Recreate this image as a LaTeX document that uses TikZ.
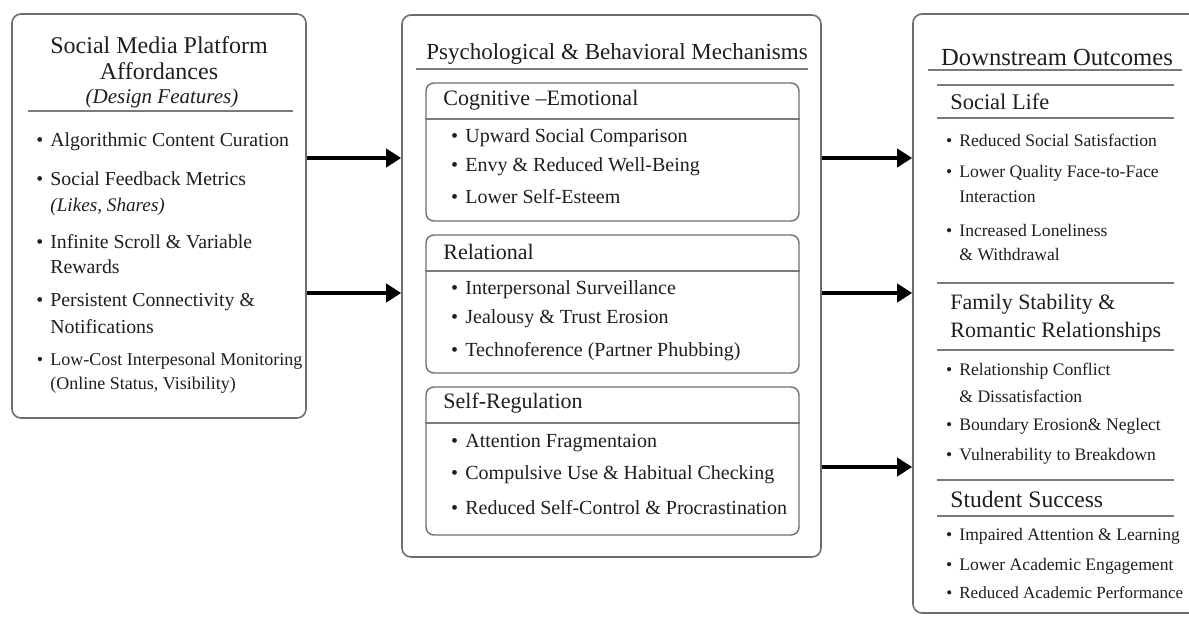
\documentclass[tikz,border=0pt]{standalone}
\usepackage{fontspec}
\setmainfont{Liberation Serif}
\usetikzlibrary{arrows.meta,fit}
\definecolor{boxgray}{HTML}{6E6E6E}
\definecolor{rulegray}{HTML}{7A7A7A}
\definecolor{ink}{HTML}{1E1E1E}
\newcommand{\fs}[1]{\fontsize{#1}{#1}\selectfont}
\newcommand{\bul}{\llap{•\hspace{3.6pt}}}
\begin{document}
\begin{tikzpicture}[x=0.5pt,y=-0.5pt,
  bigbox/.style={draw=boxgray,line width=0.8pt,rounded corners=4.5pt,inner sep=0pt},
  subbox/.style={draw=boxgray,line width=0.7pt,rounded corners=4pt,inner sep=0pt},
  rulel/.style={draw=rulegray,line width=0.7pt},
  txt/.style={anchor=west,inner sep=0pt,text=ink},
  ctxt/.style={anchor=center,inner sep=0pt,text=ink},
  lb/.style={txt,font=\fs{9.9}},
  mb/.style={txt,font=\fs{10}},
  rb/.style={txt,font=\fs{8.8}},
  mh/.style={txt,font=\fs{11}},
  rh/.style={txt,font=\fs{11.2}},
  arr/.style={draw=black,line width=2.2pt,-{Triangle[length=7.5pt,width=9pt]}}]
\useasboundingbox (0,0) rectangle (1189,616);

% ---------------- left box
\node[bigbox,fit={(12,14) (306,418)}] (L) {};
\node[ctxt,font=\fs{12}] (Lt1) at (159,45) {Social Media Platform};
\node[ctxt,font=\fs{12}] (Lt2) at (159,71) {Affordances};
\node[ctxt,font=\fs{10.5}\itshape] (Lt3) at (162,98) {(Design Features)};
\draw[rulel] (28,111) -- (293,111);
\node[lb] (l1) at (50,142) {\bul Algorithmic Content Curation};
\node[lb] (l2) at (50,179) {\bul Social Feedback Metrics};
\node[lb,font=\fs{9.6}\itshape] (l2b) at (50,207) {(Likes, Shares)};
\node[lb] (l3) at (50,242) {\bul Infinite Scroll \& Variable};
\node[lb] (l3b) at (50,267) {Rewards};
\node[lb] (l4) at (50,302) {\bul Persistent Connectivity \&};
\node[lb] (l4b) at (50,327) {Notifications};
\node[lb,font=\fs{9}] (l5) at (50,361) {\bul Low-Cost Interpesonal Monitoring};
\node[lb,font=\fs{9}] (l5b) at (50,385) {(Online Status, Visibility)};

% ---------------- middle box
\node[bigbox,fit={(402,15) (821,557)}] (M) {};
\node[ctxt,font=\fs{11.5}] (Mt) at (617,54) {Psychological \& Behavioral Mechanisms};
\draw[rulel] (416,69) -- (808,69);

\node[subbox,fit={(426,83) (799,221)}] (C1) {};
\node[mh] (C1h) at (443,100) {Cognitive –Emotional};
\draw[rulel] (C1.west |- 0,119) -- (C1.east |- 0,119);
\node[mb] (c11) at (465,138) {\bul Upward Social Comparison};
\node[mb] (c12) at (465,167) {\bul Envy \& Reduced Well-Being};
\node[mb] (c13) at (465,197) {\bul Lower Self-Esteem};

\node[subbox,fit={(426,235) (799,373)}] (C2) {};
\node[mh] (C2h) at (443,252) {Relational};
\draw[rulel] (C2.west |- 0,271) -- (C2.east |- 0,271);
\node[mb] (c21) at (465,290) {\bul Interpersonal Surveillance};
\node[mb] (c22) at (465,319) {\bul Jealousy \& Trust Erosion};
\node[mb] (c23) at (465,352) {\bul Technoference (Partner Phubbing)};

\node[subbox,fit={(426,387) (799,535)}] (C3) {};
\node[mh] (C3h) at (443,403) {Self-Regulation};
\draw[rulel] (C3.west |- 0,423) -- (C3.east |- 0,423);
\node[mb] (c31) at (465,443) {\bul Attention Fragmentaion};
\node[mb] (c32) at (465,475) {\bul Compulsive Use \& Habitual Checking};
\node[mb] (c33) at (465,508) {\bul Reduced Self-Control \& Procrastination};

% ---------------- right box
\node[bigbox,fit={(913,14) (1204,613)}] (R) {};
\node[ctxt,font=\fs{12.3}] (Rt) at (1057,57) {Downstream Outcomes};
\draw[rulel] (928,70) -- (1182,70);
\draw[rulel] (937,85) -- (1174,85);
\node[rh] (s1) at (950,102) {Social Life};
\draw[rulel] (937,118) -- (1174,118);
\node[rb] (r11) at (959,140) {\bul Reduced Social Satisfaction};
\node[rb] (r12) at (959,173) {\bul Lower Quality Face-to-Face};
\node[rb] (r12b) at (959,197) {Interaction};
\node[rb] (r13) at (959,230) {\bul Increased Loneliness};
\node[rb] (r13b) at (959,255) {\& Withdrawal};
\draw[rulel] (937,283) -- (1174,283);
\node[rh,font=\fs{11}] (s2a) at (950,304) {Family Stability \&};
\node[rh,font=\fs{11}] (s2b) at (950,332) {Romantic Relationships};
\draw[rulel] (937,350) -- (1174,350);
\node[rb] (r21) at (959,371) {\bul Relationship Conflict};
\node[rb] (r21b) at (959,396) {\& Dissatisfaction};
\node[rb] (r22) at (959,426) {\bul Boundary Erosion\& Neglect};
\node[rb] (r23) at (959,456) {\bul Vulnerability to Breakdown};
\draw[rulel] (937,480) -- (1174,480);
\node[rh,font=\fs{11.8}] (s3) at (950,499) {Student Success};
\draw[rulel] (937,516) -- (1174,516);
\node[rb] (r31) at (959,536) {\bul Impaired Attention \& Learning};
\node[rb] (r32) at (959,566) {\bul Lower Academic Engagement};
\node[rb,font=\fs{8.5}] (r33) at (959,593) {\bul Reduced Academic Performance};

% ---------------- arrows
\coordinate (ya) at (0,158);
\coordinate (yb) at (0,293);
\coordinate (yc) at (0,467);
\draw[arr] (L.east |- ya) -- (M.west |- ya);
\draw[arr] (L.east |- yb) -- (M.west |- yb);
\draw[arr] (M.east |- ya) -- (R.west |- ya);
\draw[arr] (M.east |- yb) -- (R.west |- yb);
\draw[arr] (M.east |- yc) -- (R.west |- yc);
\end{tikzpicture}
\end{document}
